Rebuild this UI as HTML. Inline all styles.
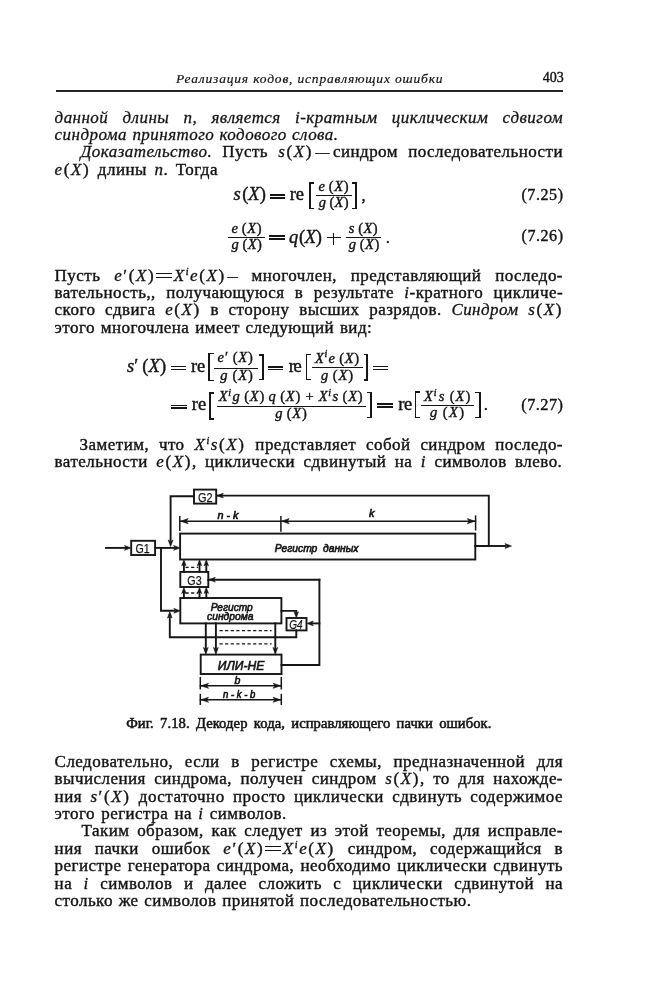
<!DOCTYPE html>
<html><head><meta charset="utf-8"><style>
html,body{margin:0;padding:0;background:#fff;}
body{width:645px;height:1000px;position:relative;overflow:hidden;font-family:"Liberation Serif",serif;color:#141414;}
#pg{position:absolute;left:0;top:0;width:645px;height:1000px;filter:grayscale(1);}
.t{position:absolute;white-space:pre;}
.jj{white-space:normal;text-align:justify;text-align-last:justify;}
.r{position:absolute;}
.ln{position:absolute;font-size:17px;line-height:20px;white-space:nowrap;}
.ln.j{text-align:justify;text-align-last:justify;white-space:normal;}
.t,.ln{-webkit-text-stroke:0.4px #141414;}
.mx{letter-spacing:1.6px;}
.ln i{-webkit-text-stroke:0.3px #141414;}
.eqi{display:inline-block;width:15.5px;height:2.6px;border-top:1.5px solid #141414;border-bottom:1.5px solid #141414;vertical-align:3.2px;margin:0 2px 0 1px;}
.dsh{display:inline-block;transform:scaleX(.82);margin:0 2px 0 1px;letter-spacing:0;}
.dsh2{display:inline-block;transform:scaleX(.6);margin:0 -3px 0 -2px;letter-spacing:0;}
sup{font-size:10px;vertical-align:0;position:relative;top:-6px;font-style:italic;}
sup.m{font-size:8.5px;top:-5px;}
.dg{position:absolute;left:0;top:0;}
.cap{font-family:'Liberation Serif';font-weight:normal;fill:#141414;stroke:#141414;stroke-width:0.55px;white-space:pre;}
.dt{fill:#161616;stroke:#161616;stroke-width:0.65px;white-space:pre;}
.mt{font-family:'Liberation Serif';fill:#141414;stroke:#141414;stroke-width:0.4px;white-space:pre;}
</style></head><body><div id="pg">
<span class="t " style="left:176.0px;top:70.05px;font-size:13.5px;line-height:18px;font-style:italic;letter-spacing:0.82px;-webkit-text-stroke:0.2px #141414">Реализация кодов, исправляющих ошибки</span>
<span class="t " style="left:542.8px;top:69.18px;font-size:14px;line-height:18px;">403</span>
<div class="r" style="left:56.00px;top:90.00px;width:507.30px;height:2.00px;background:#262626"></div>
<div class="ln j" style="left:54.6px;top:108.06px;width:508.4px;letter-spacing:0.45px"><i>данной длины n, является i-кратным циклическим сдвигом</i></div>
<div class="ln j" style="left:54.6px;top:124.86px;width:283.9px;letter-spacing:0.45px"><i>синдрома принятого кодового слова.</i></div>
<div class="ln j" style="left:80.6px;top:142.36px;width:482.4px;letter-spacing:0.45px"><i>Доказательство.</i> Пусть <span class="mx"><i>s</i>(<i>X</i>)</span><span class="dsh">—</span>синдром последовательности</div>
<div class="ln j" style="left:54.6px;top:159.66px;width:163.3px;letter-spacing:0.45px"><span class="mx"><i>e</i>(<i>X</i>)</span> длины <i>n</i>. Тогда</div>
<div class="r" style="left:269.60px;top:194.40px;width:15.50px;height:1.40px;background:#161616"></div>
<div class="r" style="left:269.60px;top:197.20px;width:15.50px;height:1.40px;background:#161616"></div>
<div class="r" style="left:309.20px;top:182.30px;width:1.90px;height:26.60px;background:#161616"></div>
<div class="r" style="left:309.20px;top:182.30px;width:4.90px;height:1.40px;background:#161616"></div>
<div class="r" style="left:309.20px;top:207.50px;width:4.90px;height:1.40px;background:#161616"></div>
<div class="r" style="left:315.80px;top:195.20px;width:36.00px;height:1.20px;background:#161616"></div>
<div class="r" style="left:355.10px;top:182.30px;width:1.90px;height:26.60px;background:#161616"></div>
<div class="r" style="left:352.10px;top:182.30px;width:4.90px;height:1.40px;background:#161616"></div>
<div class="r" style="left:352.10px;top:207.50px;width:4.90px;height:1.40px;background:#161616"></div>
<div class="r" style="left:228.10px;top:236.80px;width:36.70px;height:1.20px;background:#161616"></div>
<div class="r" style="left:269.00px;top:235.40px;width:15.50px;height:1.40px;background:#161616"></div>
<div class="r" style="left:269.00px;top:238.20px;width:15.50px;height:1.40px;background:#161616"></div>
<div class="r" style="left:327.00px;top:236.70px;width:13.60px;height:1.40px;background:#161616"></div>
<div class="r" style="left:332.90px;top:232.50px;width:1.40px;height:12.50px;background:#161616"></div>
<div class="r" style="left:345.50px;top:237.00px;width:35.30px;height:1.20px;background:#161616"></div>
<div class="ln j" style="left:54.6px;top:265.76px;width:508.4px;letter-spacing:0.45px">Пусть <span class="mx"><i>e</i>′(<i>X</i>)</span><span class="eqi"></span><span class="mx"><i>X</i><sup>i</sup><i>e</i>(<i>X</i>)</span><span class="dsh2">—</span> многочлен, представляющий последо-</div>
<div class="ln j" style="left:54.6px;top:282.56px;width:508.4px;letter-spacing:0.45px">вательность,, получающуюся в результате <i>i</i>-кратного цикличе-</div>
<div class="ln j" style="left:54.6px;top:300.06px;width:508.4px;letter-spacing:0.45px">ского сдвига <span class="mx"><i>e</i>(<i>X</i>)</span> в сторону высших разрядов. <i>Синдром</i> <span class="mx"><i>s</i>(<i>X</i>)</span></div>
<div class="ln j" style="left:54.6px;top:317.86px;width:317.6px;letter-spacing:0.45px">этого многочлена имеет следующий вид:</div>
<div class="r" style="left:170.90px;top:365.90px;width:15.20px;height:1.40px;background:#161616"></div>
<div class="r" style="left:170.90px;top:368.70px;width:15.20px;height:1.40px;background:#161616"></div>
<div class="r" style="left:208.30px;top:353.10px;width:1.90px;height:28.00px;background:#161616"></div>
<div class="r" style="left:208.30px;top:353.10px;width:5.60px;height:1.40px;background:#161616"></div>
<div class="r" style="left:208.30px;top:379.70px;width:5.60px;height:1.40px;background:#161616"></div>
<div class="r" style="left:214.30px;top:367.60px;width:43.40px;height:1.20px;background:#161616"></div>
<div class="r" style="left:261.70px;top:354.30px;width:1.90px;height:26.10px;background:#161616"></div>
<div class="r" style="left:258.60px;top:354.30px;width:5.00px;height:1.40px;background:#161616"></div>
<div class="r" style="left:258.60px;top:379.00px;width:5.00px;height:1.40px;background:#161616"></div>
<div class="r" style="left:267.90px;top:366.20px;width:15.50px;height:1.40px;background:#161616"></div>
<div class="r" style="left:267.90px;top:369.00px;width:15.50px;height:1.40px;background:#161616"></div>
<div class="r" style="left:305.60px;top:353.70px;width:1.90px;height:26.70px;background:#161616"></div>
<div class="r" style="left:305.60px;top:353.70px;width:5.00px;height:1.40px;background:#161616"></div>
<div class="r" style="left:305.60px;top:379.00px;width:5.00px;height:1.40px;background:#161616"></div>
<div class="r" style="left:312.30px;top:366.60px;width:50.70px;height:1.20px;background:#161616"></div>
<div class="r" style="left:366.20px;top:353.70px;width:1.90px;height:27.00px;background:#161616"></div>
<div class="r" style="left:363.50px;top:353.70px;width:4.60px;height:1.40px;background:#161616"></div>
<div class="r" style="left:363.50px;top:379.30px;width:4.60px;height:1.40px;background:#161616"></div>
<div class="r" style="left:372.60px;top:365.90px;width:15.40px;height:1.40px;background:#161616"></div>
<div class="r" style="left:372.60px;top:368.70px;width:15.40px;height:1.40px;background:#161616"></div>
<div class="r" style="left:171.20px;top:404.50px;width:16.20px;height:1.40px;background:#161616"></div>
<div class="r" style="left:171.20px;top:407.30px;width:16.20px;height:1.40px;background:#161616"></div>
<div class="r" style="left:208.80px;top:392.20px;width:1.90px;height:27.40px;background:#161616"></div>
<div class="r" style="left:208.80px;top:392.20px;width:5.20px;height:1.40px;background:#161616"></div>
<div class="r" style="left:208.80px;top:418.20px;width:5.20px;height:1.40px;background:#161616"></div>
<div class="r" style="left:216.50px;top:405.60px;width:149.40px;height:1.20px;background:#161616"></div>
<div class="r" style="left:370.40px;top:392.00px;width:1.90px;height:26.30px;background:#161616"></div>
<div class="r" style="left:367.30px;top:392.00px;width:5.00px;height:1.40px;background:#161616"></div>
<div class="r" style="left:367.30px;top:416.90px;width:5.00px;height:1.40px;background:#161616"></div>
<div class="r" style="left:377.40px;top:403.40px;width:15.50px;height:1.40px;background:#161616"></div>
<div class="r" style="left:377.40px;top:406.20px;width:15.50px;height:1.40px;background:#161616"></div>
<div class="r" style="left:414.60px;top:391.20px;width:1.90px;height:27.30px;background:#161616"></div>
<div class="r" style="left:414.60px;top:391.20px;width:5.00px;height:1.40px;background:#161616"></div>
<div class="r" style="left:414.60px;top:417.10px;width:5.00px;height:1.40px;background:#161616"></div>
<div class="r" style="left:421.20px;top:404.90px;width:52.80px;height:1.20px;background:#161616"></div>
<div class="r" style="left:478.90px;top:391.80px;width:1.90px;height:26.70px;background:#161616"></div>
<div class="r" style="left:475.20px;top:391.80px;width:5.60px;height:1.40px;background:#161616"></div>
<div class="r" style="left:475.20px;top:417.10px;width:5.60px;height:1.40px;background:#161616"></div>
<div class="ln j" style="left:79.6px;top:434.56px;width:483.4px;letter-spacing:0.45px">Заметим, что <span class="mx"><i>X</i><sup>i</sup><i>s</i>(<i>X</i>)</span> представляет собой синдром последо-</div>
<div class="ln j" style="left:54.6px;top:451.56px;width:507.7px;letter-spacing:0.45px">вательности <span class="mx"><i>e</i>(<i>X</i>)</span>, циклически сдвинутый на <i>i</i> символов влево.</div>
<div class="ln j" style="left:54.6px;top:751.96px;width:508.4px;letter-spacing:0.45px">Следовательно, если в регистре схемы, предназначенной для</div>
<div class="ln j" style="left:54.6px;top:769.26px;width:508.4px;letter-spacing:0.45px">вычисления синдрома, получен синдром <span class="mx"><i>s</i>(<i>X</i>)</span>, то для нахожде-</div>
<div class="ln j" style="left:54.6px;top:786.76px;width:508.4px;letter-spacing:0.45px">ния <span class="mx"><i>s</i>′(<i>X</i>)</span> достаточно просто циклически сдвинуть содержимое</div>
<div class="ln j" style="left:54.6px;top:803.56px;width:232.1px;letter-spacing:0.45px">этого регистра на <i>i</i> символов.</div>
<div class="ln j" style="left:81.6px;top:820.86px;width:481.4px;letter-spacing:0.45px">Таким образом, как следует из этой теоремы, для исправле-</div>
<div class="ln j" style="left:54.6px;top:838.86px;width:508.4px;letter-spacing:0.45px">ния пачки ошибок <span class="mx"><i>e</i>′(<i>X</i>)</span><span class="eqi"></span><span class="mx"><i>X</i><sup>i</sup><i>e</i>(<i>X</i>)</span> синдром, содержащийся в</div>
<div class="ln j" style="left:54.6px;top:855.56px;width:508.4px;letter-spacing:0.45px">регистре генератора синдрома, необходимо циклически сдвинуть</div>
<div class="ln j" style="left:54.6px;top:874.26px;width:508.4px;letter-spacing:0.45px">на <i>i</i> символов и далее сложить с циклически сдвинутой на</div>
<div class="ln j" style="left:54.6px;top:890.56px;width:416.8px;letter-spacing:0.45px">столько же символов принятой последовательностью.</div>
<svg class="dg" width="645" height="1000" viewBox="0 0 645 1000"><rect x="194" y="489.6" width="22.20" height="14.00" fill="none" stroke="#161616" stroke-width="1.9"/>
<rect x="131.2" y="540.8" width="23.90" height="14.20" fill="none" stroke="#161616" stroke-width="1.9"/>
<rect x="180.1" y="533.6" width="295.20" height="25.90" fill="none" stroke="#161616" stroke-width="1.9"/>
<rect x="180.3" y="571.9" width="28.00" height="15.10" fill="none" stroke="#161616" stroke-width="1.9"/>
<rect x="180.3" y="598.0" width="101.10" height="25.40" fill="none" stroke="#161616" stroke-width="1.9"/>
<rect x="286.5" y="618.0" width="20.00" height="12.40" fill="none" stroke="#161616" stroke-width="1.9"/>
<rect x="200.7" y="654.6" width="80.80" height="19.40" fill="none" stroke="#161616" stroke-width="1.9"/>
<path d="M475.30,546.00 L488.80,546.00 L488.80,495.60 L217.50,495.60" fill="none" stroke="#161616" stroke-width="1.9" stroke-linejoin="miter" stroke-linecap="square"/>
<path d="M216.80,495.60 L223.30,493.20 L221.68,495.60 L223.30,498.00Z" fill="#161616" stroke="#161616" stroke-width="0.6" stroke-linejoin="miter"/>
<path d="M194.00,496.20 L170.60,496.20 L170.60,540.00" fill="none" stroke="#161616" stroke-width="1.9" stroke-linejoin="miter" stroke-linecap="square"/>
<path d="M170.60,546.50 L168.20,540.00 L170.60,541.62 L173.00,540.00Z" fill="#161616" stroke="#161616" stroke-width="0.6" stroke-linejoin="miter"/>
<path d="M475.30,546.00 L505.00,546.00" fill="none" stroke="#161616" stroke-width="1.9" stroke-linejoin="miter" stroke-linecap="square"/>
<path d="M511.50,546.00 L505.00,548.40 L506.62,546.00 L505.00,543.60Z" fill="#161616" stroke="#161616" stroke-width="0.6" stroke-linejoin="miter"/>
<path d="M106.00,547.90 L125.00,547.90" fill="none" stroke="#161616" stroke-width="1.9" stroke-linejoin="miter" stroke-linecap="square"/>
<path d="M131.00,547.90 L124.50,550.30 L126.12,547.90 L124.50,545.50Z" fill="#161616" stroke="#161616" stroke-width="0.6" stroke-linejoin="miter"/>
<path d="M155.10,547.90 L174.00,547.90" fill="none" stroke="#161616" stroke-width="1.9" stroke-linejoin="miter" stroke-linecap="square"/>
<path d="M180.10,547.90 L173.60,550.30 L175.22,547.90 L173.60,545.50Z" fill="#161616" stroke="#161616" stroke-width="0.6" stroke-linejoin="miter"/>
<path d="M161.00,547.90 L161.00,610.80 L174.00,610.80" fill="none" stroke="#161616" stroke-width="1.9" stroke-linejoin="miter" stroke-linecap="square"/>
<path d="M180.30,610.80 L173.80,613.20 L175.43,610.80 L173.80,608.40Z" fill="#161616" stroke="#161616" stroke-width="0.6" stroke-linejoin="miter"/>
<path d="M180.00,521.20 L475.50,521.20" fill="none" stroke="#161616" stroke-width="1.5" stroke-linejoin="miter" stroke-linecap="square"/>
<path d="M179.80,516.80 L179.80,530.20" fill="none" stroke="#161616" stroke-width="1.5" stroke-linejoin="miter" stroke-linecap="square"/>
<path d="M280.90,516.80 L280.90,531.00" fill="none" stroke="#161616" stroke-width="1.5" stroke-linejoin="miter" stroke-linecap="square"/>
<path d="M475.60,516.20 L475.60,529.80" fill="none" stroke="#161616" stroke-width="1.5" stroke-linejoin="miter" stroke-linecap="square"/>
<path d="M180.60,521.20 L188.10,518.60 L186.22,521.20 L188.10,523.80Z" fill="#161616" stroke="#161616" stroke-width="0.6" stroke-linejoin="miter"/>
<path d="M281.70,521.20 L289.20,518.60 L287.32,521.20 L289.20,523.80Z" fill="#161616" stroke="#161616" stroke-width="0.6" stroke-linejoin="miter"/>
<path d="M474.80,521.20 L467.30,523.80 L469.18,521.20 L467.30,518.60Z" fill="#161616" stroke="#161616" stroke-width="0.6" stroke-linejoin="miter"/>
<text x="217.4" y="519.2" font-family="Liberation Sans" font-size="10.5" font-style="italic" class="dt" textLength="21" lengthAdjust="spacingAndGlyphs">n - k</text>
<text x="369" y="517" font-family="Liberation Sans" font-size="11" font-style="italic" class="dt">k</text>
<text x="274.8" y="551.6" font-family="Liberation Sans" font-size="10.6" font-style="italic" class="dt" textLength="83.6" lengthAdjust="spacingAndGlyphs">Регистр  данных</text>
<path d="M183.90,571.90 L183.90,564.00" fill="none" stroke="#161616" stroke-width="1.9" stroke-linejoin="miter" stroke-linecap="square"/>
<path d="M183.90,559.80 L186.10,565.80 L183.90,564.30 L181.70,565.80Z" fill="#161616" stroke="#161616" stroke-width="0.6" stroke-linejoin="miter"/>
<path d="M183.90,598.00 L183.90,592.00" fill="none" stroke="#161616" stroke-width="1.9" stroke-linejoin="miter" stroke-linecap="square"/>
<path d="M183.90,587.40 L186.10,593.40 L183.90,591.90 L181.70,593.40Z" fill="#161616" stroke="#161616" stroke-width="0.6" stroke-linejoin="miter"/>
<path d="M199.50,571.90 L199.50,564.00" fill="none" stroke="#161616" stroke-width="1.9" stroke-linejoin="miter" stroke-linecap="square"/>
<path d="M199.50,559.80 L201.70,565.80 L199.50,564.30 L197.30,565.80Z" fill="#161616" stroke="#161616" stroke-width="0.6" stroke-linejoin="miter"/>
<path d="M199.50,598.00 L199.50,592.00" fill="none" stroke="#161616" stroke-width="1.9" stroke-linejoin="miter" stroke-linecap="square"/>
<path d="M199.50,587.40 L201.70,593.40 L199.50,591.90 L197.30,593.40Z" fill="#161616" stroke="#161616" stroke-width="0.6" stroke-linejoin="miter"/>
<path d="M206.30,571.90 L206.30,564.00" fill="none" stroke="#161616" stroke-width="1.9" stroke-linejoin="miter" stroke-linecap="square"/>
<path d="M206.30,559.80 L208.50,565.80 L206.30,564.30 L204.10,565.80Z" fill="#161616" stroke="#161616" stroke-width="0.6" stroke-linejoin="miter"/>
<path d="M206.30,598.00 L206.30,592.00" fill="none" stroke="#161616" stroke-width="1.9" stroke-linejoin="miter" stroke-linecap="square"/>
<path d="M206.30,587.40 L208.50,593.40 L206.30,591.90 L204.10,593.40Z" fill="#161616" stroke="#161616" stroke-width="0.6" stroke-linejoin="miter"/>
<line x1="185.5" y1="567.4" x2="198" y2="567.4" stroke="#161616" stroke-width="1.3" stroke-dasharray="3.2,2.4"/>
<line x1="185.5" y1="593.0" x2="198" y2="593.0" stroke="#161616" stroke-width="1.3" stroke-dasharray="3.2,2.4"/>
<path d="M208.30,579.70 L319.40,579.70" fill="none" stroke="#161616" stroke-width="1.9" stroke-linejoin="miter" stroke-linecap="square"/>
<path d="M208.80,579.70 L215.30,577.30 L213.68,579.70 L215.30,582.10Z" fill="#161616" stroke="#161616" stroke-width="0.6" stroke-linejoin="miter"/>
<path d="M319.40,579.70 L319.40,665.00 L281.50,665.00" fill="none" stroke="#161616" stroke-width="1.9" stroke-linejoin="miter" stroke-linecap="square"/>
<path d="M319.40,623.40 L312.00,623.40" fill="none" stroke="#161616" stroke-width="1.9" stroke-linejoin="miter" stroke-linecap="square"/>
<path d="M306.80,623.40 L313.30,621.00 L311.68,623.40 L313.30,625.80Z" fill="#161616" stroke="#161616" stroke-width="0.6" stroke-linejoin="miter"/>
<path d="M281.40,610.90 L296.30,610.90 L296.30,612.00" fill="none" stroke="#161616" stroke-width="1.9" stroke-linejoin="miter" stroke-linecap="square"/>
<path d="M296.30,617.80 L294.10,611.80 L296.30,613.30 L298.50,611.80Z" fill="#161616" stroke="#161616" stroke-width="0.6" stroke-linejoin="miter"/>
<path d="M296.30,630.40 L296.30,637.20 L169.80,637.20 L169.80,618.00" fill="none" stroke="#161616" stroke-width="1.9" stroke-linejoin="miter" stroke-linecap="square"/>
<path d="M169.80,611.60 L172.10,618.10 L169.80,616.48 L167.50,618.10Z" fill="#161616" stroke="#161616" stroke-width="0.6" stroke-linejoin="miter"/>
<path d="M205.80,623.40 L205.80,648.00" fill="none" stroke="#161616" stroke-width="1.9" stroke-linejoin="miter" stroke-linecap="square"/>
<path d="M205.80,654.40 L203.40,647.40 L205.80,649.15 L208.20,647.40Z" fill="#161616" stroke="#161616" stroke-width="0.6" stroke-linejoin="miter"/>
<path d="M215.90,623.40 L215.90,648.00" fill="none" stroke="#161616" stroke-width="1.9" stroke-linejoin="miter" stroke-linecap="square"/>
<path d="M215.90,654.40 L213.50,647.40 L215.90,649.15 L218.30,647.40Z" fill="#161616" stroke="#161616" stroke-width="0.6" stroke-linejoin="miter"/>
<path d="M275.30,623.40 L275.30,648.00" fill="none" stroke="#161616" stroke-width="1.9" stroke-linejoin="miter" stroke-linecap="square"/>
<path d="M275.30,654.40 L272.90,647.40 L275.30,649.15 L277.70,647.40Z" fill="#161616" stroke="#161616" stroke-width="0.6" stroke-linejoin="miter"/>
<line x1="219.5" y1="630.6" x2="271.6" y2="630.6" stroke="#161616" stroke-width="1.3" stroke-dasharray="3.2,2.4"/>
<line x1="219.5" y1="643.8" x2="271.6" y2="643.8" stroke="#161616" stroke-width="1.3" stroke-dasharray="3.2,2.4"/>
<path d="M200.50,685.80 L281.30,685.80" fill="none" stroke="#161616" stroke-width="1.5" stroke-linejoin="miter" stroke-linecap="square"/>
<path d="M200.30,677.70 L200.30,688.70" fill="none" stroke="#161616" stroke-width="1.5" stroke-linejoin="miter" stroke-linecap="square"/>
<path d="M281.30,677.70 L281.30,688.70" fill="none" stroke="#161616" stroke-width="1.5" stroke-linejoin="miter" stroke-linecap="square"/>
<path d="M201.00,685.80 L208.50,683.30 L206.62,685.80 L208.50,688.30Z" fill="#161616" stroke="#161616" stroke-width="0.6" stroke-linejoin="miter"/>
<path d="M280.60,685.80 L273.10,688.30 L274.98,685.80 L273.10,683.30Z" fill="#161616" stroke="#161616" stroke-width="0.6" stroke-linejoin="miter"/>
<path d="M200.50,699.80 L281.30,699.80" fill="none" stroke="#161616" stroke-width="1.5" stroke-linejoin="miter" stroke-linecap="square"/>
<path d="M200.30,694.60 L200.30,704.20" fill="none" stroke="#161616" stroke-width="1.5" stroke-linejoin="miter" stroke-linecap="square"/>
<path d="M281.30,694.60 L281.30,704.20" fill="none" stroke="#161616" stroke-width="1.5" stroke-linejoin="miter" stroke-linecap="square"/>
<path d="M201.00,699.80 L208.50,697.30 L206.62,699.80 L208.50,702.30Z" fill="#161616" stroke="#161616" stroke-width="0.6" stroke-linejoin="miter"/>
<path d="M280.60,699.80 L273.10,702.30 L274.98,699.80 L273.10,697.30Z" fill="#161616" stroke="#161616" stroke-width="0.6" stroke-linejoin="miter"/>
<text x="234.6" y="683.6" font-family="Liberation Sans" font-size="10.5" font-style="italic" class="dt">b</text>
<text x="223" y="698.3" font-family="Liberation Sans" font-size="10.5" font-style="italic" class="dt" textLength="32.4" lengthAdjust="spacingAndGlyphs">n - k - b</text>
<text x="135.4" y="552.6" font-family="Liberation Sans" font-size="12.5" font-style="normal" class="dt" textLength="14.2" lengthAdjust="spacingAndGlyphs" style="stroke-width:0.25px">G1</text>
<text x="198" y="501.8" font-family="Liberation Sans" font-size="12.5" font-style="normal" class="dt" textLength="14.5" lengthAdjust="spacingAndGlyphs" style="stroke-width:0.25px">G2</text>
<text x="187.3" y="584.6" font-family="Liberation Sans" font-size="12.5" font-style="normal" class="dt" textLength="14.3" lengthAdjust="spacingAndGlyphs" style="stroke-width:0.25px">G3</text>
<text x="289.2" y="629" font-family="Liberation Sans" font-size="12" font-style="italic" class="dt" textLength="13.4" lengthAdjust="spacingAndGlyphs" style="stroke-width:0.25px">G4</text>
<text x="210.7" y="610.6" font-family="Liberation Sans" font-size="11" font-style="italic" class="dt" textLength="42" lengthAdjust="spacingAndGlyphs">Регистр</text>
<text x="207" y="620.1" font-family="Liberation Sans" font-size="11" font-style="italic" class="dt" textLength="46.5" lengthAdjust="spacingAndGlyphs">синдрома</text>
<text x="217.8" y="670.3" font-family="Liberation Sans" font-size="12.5" font-style="italic" class="dt" textLength="46.4" lengthAdjust="spacingAndGlyphs">ИЛИ-НЕ</text>
<text x="233.60" y="200.30" font-size="18.5" textLength="32.20" lengthAdjust="spacing" class="mt"><tspan font-style="italic">s</tspan> (<tspan font-style="italic">X</tspan>)</text>
<text x="289.80" y="200.30" font-size="18.5" textLength="14.10" lengthAdjust="spacing" class="mt">re</text>
<text x="318.40" y="190.90" font-size="14.5" textLength="30.10" lengthAdjust="spacing" class="mt"><tspan font-style="italic">e</tspan> (<tspan font-style="italic">X</tspan>)</text>
<text x="318.70" y="207.30" font-size="14.5" textLength="29.80" lengthAdjust="spacing" class="mt"><tspan font-style="italic">g</tspan> (<tspan font-style="italic">X</tspan>)</text>
<text x="361.40" y="200.80" font-size="17" textLength="4.20" lengthAdjust="spacing" class="mt">,</text>
<text x="521.40" y="199.70" font-size="16" textLength="41.60" lengthAdjust="spacing" class="mt">(7.25)</text>
<text x="231.40" y="232.90" font-size="14.5" textLength="30.10" lengthAdjust="spacing" class="mt"><tspan font-style="italic">e</tspan> (<tspan font-style="italic">X</tspan>)</text>
<text x="231.40" y="249.30" font-size="14.5" textLength="30.40" lengthAdjust="spacing" class="mt"><tspan font-style="italic">g</tspan> (<tspan font-style="italic">X</tspan>)</text>
<text x="288.90" y="243.00" font-size="18.5" textLength="33.00" lengthAdjust="spacing" class="mt"><tspan font-style="italic">q</tspan> (<tspan font-style="italic">X</tspan>)</text>
<text x="348.70" y="232.70" font-size="14.5" textLength="29.00" lengthAdjust="spacing" class="mt"><tspan font-style="italic">s</tspan> (<tspan font-style="italic">X</tspan>)</text>
<text x="348.70" y="249.30" font-size="14.5" textLength="30.60" lengthAdjust="spacing" class="mt"><tspan font-style="italic">g</tspan> (<tspan font-style="italic">X</tspan>)</text>
<text x="385.80" y="243.00" font-size="17" textLength="3.20" lengthAdjust="spacing" class="mt">.</text>
<text x="521.60" y="241.30" font-size="16" textLength="41.40" lengthAdjust="spacing" class="mt">(7.26)</text>
<text x="127.00" y="372.10" font-size="18.5" textLength="39.20" lengthAdjust="spacing" class="mt"><tspan font-style="italic">s</tspan>′ (<tspan font-style="italic">X</tspan>)</text>
<text x="190.90" y="372.00" font-size="18.5" textLength="14.20" lengthAdjust="spacing" class="mt">re</text>
<text x="217.60" y="362.40" font-size="14.5" textLength="35.30" lengthAdjust="spacing" class="mt"><tspan font-style="italic">e</tspan>′ (<tspan font-style="italic">X</tspan>)</text>
<text x="220.30" y="379.80" font-size="14.5" textLength="32.60" lengthAdjust="spacing" class="mt"><tspan font-style="italic">g</tspan> (<tspan font-style="italic">X</tspan>)</text>
<text x="288.70" y="372.00" font-size="18.5" textLength="12.90" lengthAdjust="spacing" class="mt">re</text>
<text x="315.00" y="362.60" font-size="14.5" textLength="44.00" lengthAdjust="spacing" class="mt"><tspan font-style="italic">X</tspan><tspan font-style="italic" font-size="10" dy="-5.5">i</tspan><tspan dy="5.5">​</tspan><tspan font-style="italic">e</tspan> (<tspan font-style="italic">X</tspan>)</text>
<text x="321.00" y="379.80" font-size="14.5" textLength="32.00" lengthAdjust="spacing" class="mt"><tspan font-style="italic">g</tspan> (<tspan font-style="italic">X</tspan>)</text>
<text x="191.80" y="410.30" font-size="18.5" textLength="14.40" lengthAdjust="spacing" class="mt">re</text>
<text x="218.70" y="401.00" font-size="14.5" textLength="143.90" lengthAdjust="spacing" class="mt"><tspan font-style="italic">X</tspan><tspan font-style="italic" font-size="10" dy="-5.5">i</tspan><tspan dy="5.5">​</tspan><tspan font-style="italic">g</tspan> (<tspan font-style="italic">X</tspan>) <tspan font-style="italic">q</tspan> (<tspan font-style="italic">X</tspan>) + <tspan font-style="italic">X</tspan><tspan font-style="italic" font-size="10" dy="-5.5">i</tspan><tspan dy="5.5">​</tspan><tspan font-style="italic">s</tspan> (<tspan font-style="italic">X</tspan>)</text>
<text x="275.20" y="417.80" font-size="14.5" textLength="31.60" lengthAdjust="spacing" class="mt"><tspan font-style="italic">g</tspan> (<tspan font-style="italic">X</tspan>)</text>
<text x="398.20" y="410.40" font-size="18.5" textLength="14.10" lengthAdjust="spacing" class="mt">re</text>
<text x="423.90" y="401.10" font-size="14.5" textLength="46.50" lengthAdjust="spacing" class="mt"><tspan font-style="italic">X</tspan><tspan font-style="italic" font-size="10" dy="-5.5">i</tspan><tspan dy="5.5">​</tspan><tspan font-style="italic">s</tspan> (<tspan font-style="italic">X</tspan>)</text>
<text x="429.90" y="417.00" font-size="14.5" textLength="34.30" lengthAdjust="spacing" class="mt"><tspan font-style="italic">g</tspan> (<tspan font-style="italic">X</tspan>)</text>
<text x="483.80" y="410.00" font-size="17" textLength="3.40" lengthAdjust="spacing" class="mt">.</text>
<text x="521.30" y="409.80" font-size="16.3" textLength="41.70" lengthAdjust="spacing" class="mt">(7.27)</text>
<text x="126.2" y="727.9" font-size="14.6" textLength="365.2" lengthAdjust="spacing" class="cap" word-spacing="2.6">Фиг. 7.18. Декодер кода, исправляющего пачки ошибок.</text></svg>
</div></body></html>
